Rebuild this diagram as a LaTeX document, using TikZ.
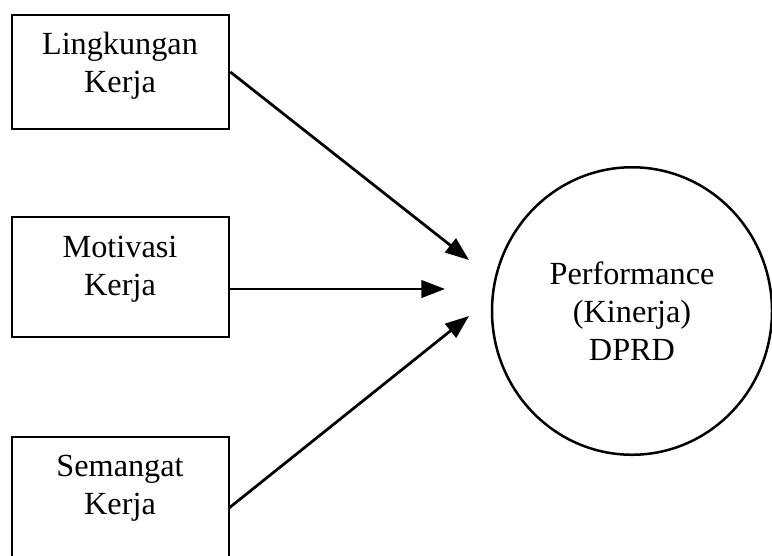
\documentclass[tikz,border=0pt]{standalone}
\usepackage{fontspec}
\setmainfont{Liberation Serif}
\usetikzlibrary{
  positioning,
  shapes.geometric,        % ellipse for the outcome
  arrows.meta              % filled arrowheads
}

\begin{document}
\begin{tikzpicture}[
    x=0.4pt, y=-0.4pt,
    font=\fontsize{12.9}{15.2}\selectfont,
    >={Triangle[length=9.5pt, width=7pt]},
    every node/.style={align=center},
    varbox/.style={rectangle, draw, line width=1.1pt, minimum width=86.8pt},
    outcome/.style={ellipse, draw, line width=1pt,
                    minimum width=112pt, minimum height=115pt},
    link/.style={->, line width=1.1pt}
]
  \useasboundingbox (0,0) rectangle (772,555);
  \clip (0,0) rectangle (772,555);

  % independent variables
  \node[varbox, minimum height=45.6pt] (lk) at (120.5,72)  {};
  \node[varbox, minimum height=48pt]   (mk) at (120.5,277) {};
  \node[varbox, minimum height=52pt]   (sk) at (120.5,502) {};

  \node (lktext) at (120,65.5)  {Lingkungan\\Kerja};
  \node (mktext) at (120,269.5) {Motivasi\\Kerja};
  \node (sktext) at (120,488.5) {Semangat\\Kerja};

  % dependent variable
  \node[outcome] (perf) at (632,311) {Performance\\(Kinerja)\\DPRD};

  % arrow ends
  \coordinate (mkout) at (229,289);
  \coordinate (skout) at (229,508);
  \coordinate (tiptop) at (469,260);
  \coordinate (tipmid) at (445,289);
  \coordinate (tipbot) at (469,316);

  \draw[link] (lk.east) -- (tiptop);
  \draw[link] (mkout)   -- (tipmid);
  \draw[link] (skout)   -- (tipbot);
\end{tikzpicture}
\end{document}
